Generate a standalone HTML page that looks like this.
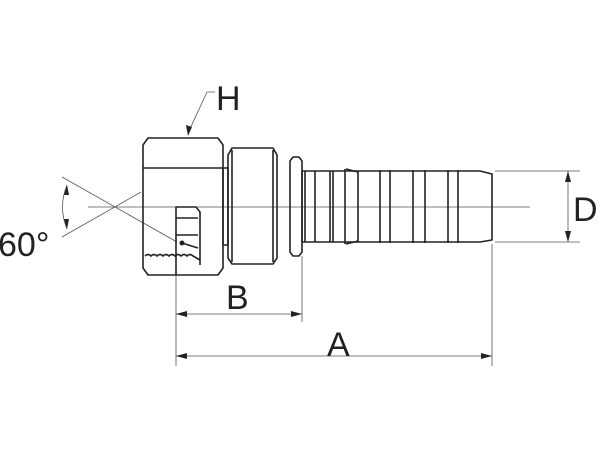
<!DOCTYPE html>
<html><head><style>body{margin:0;background:#fff}svg{display:block}</style></head><body>
<svg width="600" height="450" viewBox="0 0 600 450" xmlns="http://www.w3.org/2000/svg" font-family="Liberation Sans, sans-serif">
<rect width="600" height="450" fill="#fff"/>
<g stroke="#555" stroke-width="0.8" fill="none">
<line x1="88" y1="207" x2="530" y2="207"/>
<line x1="62" y1="177" x2="177" y2="242"/>
<line x1="62" y1="237" x2="141" y2="192"/>
<path d="M67 185 Q58 207 67 229"/>
<line x1="495" y1="171" x2="580" y2="171"/>
<line x1="495" y1="242" x2="580" y2="242"/>
<line x1="568" y1="171" x2="568" y2="242"/>
<line x1="176" y1="245" x2="176" y2="366"/>
<line x1="302" y1="256" x2="302" y2="322"/>
<line x1="492" y1="244" x2="492" y2="366"/>
<line x1="176" y1="314" x2="302" y2="314"/>
<line x1="176" y1="356" x2="492" y2="356"/>
<polyline points="188,133 207,92 215,92"/>
</g>
<g fill="#222">
<polygon points="568,171 565,182 571,182"/>
<polygon points="568,242 565,231 571,231"/>
<polygon points="176,314 187,311 187,317"/>
<polygon points="302,314 291,311 291,317"/>
<polygon points="176,356 187,353 187,359"/>
<polygon points="492,356 481,353 481,359"/>
<polygon points="188,136 186,125 192,127"/>
<polygon points="67,185 64,195 69,195"/>
<polygon points="67,229 64,219 69,219"/>
<circle cx="182" cy="243" r="2.5"/>
</g>
<g stroke="#222" stroke-width="1.6" fill="none" stroke-linejoin="round">
<path d="M148 138 H218 L223 145 V268 L218 275 H148 L143 268 V145 Z"/>
<path d="M143 168 H223"/>
<path d="M176 275 V207 H196 L200 212 V265"/>
<path d="M176 218 H198 M176 235 H198"/>
<path d="M145 256 q3 -3 6 0 q3 -3 6 0 q3 -3 6 0 q3 -3 6 0 q3 -3 6 0 q3 -3 6 0 q3 -3 6 0 q3 -3 6 0 L200 260"/>
<path d="M182 243 L198 248"/>
<rect x="223" y="168" width="5" height="77"/>
<path d="M232 148 H273 L277 155 V258 L273 264 H232 L228 258 V155 Z"/>
<path d="M232 150 V262 M273 150 V262"/>
<path d="M293 157 H299 L302 161 V252 L299 256 H293 L290 252 V161 Z"/>
<path d="M302 171 H480 L492 174 V240 L480 242 H302 Z"/>
<path d="M305 171 V242 M315 171 V242 M330 171 V242 M333 171 V242"/>
<path d="M345 169 V244 M346 169 L358 172 M346 244 L358 241 M358 171 V242"/>
<path d="M380 170 V243 M390 170 V243 M413 170 V243 M425 170 V243 M448 170 V243 M458 170 V243"/>
</g>
<g fill="#222" font-size="34">
<text x="216" y="110">H</text>
<text x="-2" y="256">60°</text>
<text x="226" y="309">B</text>
<text x="327" y="356">A</text>
<text x="573" y="221">D</text>
</g>
</svg>
</body></html>
